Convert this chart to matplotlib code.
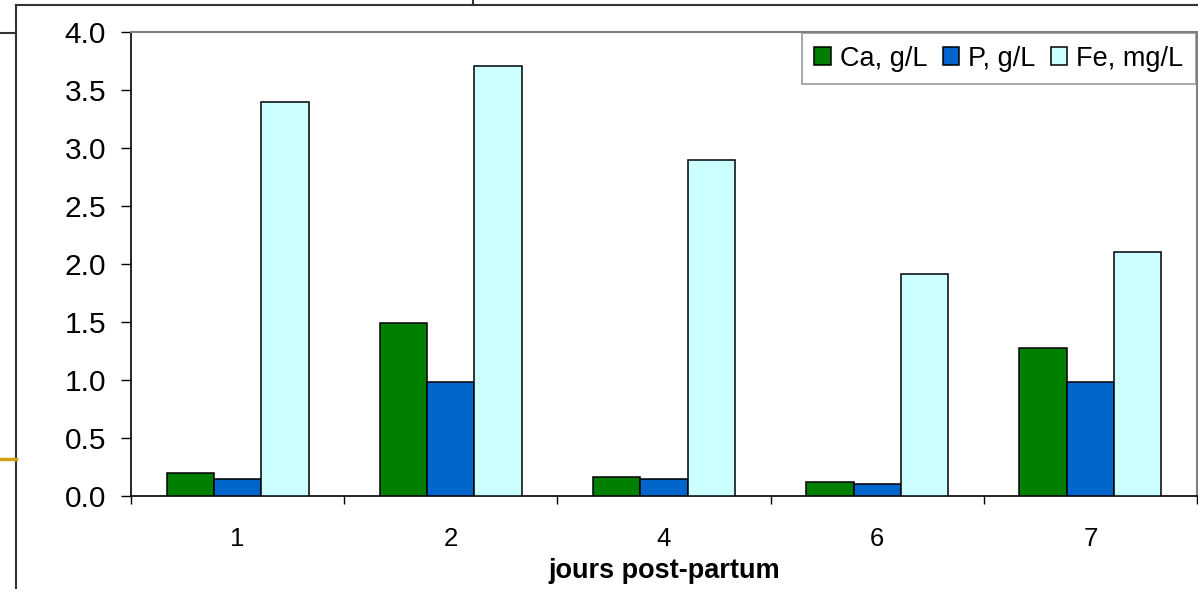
import matplotlib
matplotlib.use("Agg")
import matplotlib.pyplot as plt
from matplotlib.lines import Line2D
import numpy as np

plt.rcParams['font.family'] = ['Liberation Sans', 'DejaVu Sans']

categories = ["1", "2", "4", "6", "7"]
series_names = ["Ca, g/L", "P, g/L", "Fe, mg/L"]
ca = [0.20, 1.49, 0.16, 0.12, 1.28]
p = [0.15, 0.98, 0.15, 0.10, 0.98]
fe = [3.40, 3.71, 2.90, 1.91, 2.10]
colors = ["#008000", "#0066CC", "#CCFFFF"]
yticks = [0.0, 0.5, 1.0, 1.5, 2.0, 2.5, 3.0, 3.5, 4.0]

W, H = 1198, 589
fig = plt.figure(figsize=(W / 100, H / 100), dpi=100)
ax = fig.add_axes([131 / W, 1 - 496 / H, (1197 - 131) / W, (496 - 32) / H])

x = np.arange(len(categories))
bw = 1 / 4.5
for i, (vals, c, name) in enumerate(zip([ca, p, fe], colors, series_names)):
    ax.bar(x + (i - 1) * bw, vals, width=bw, color=c, edgecolor="black",
           linewidth=1.1, label=name, zorder=3)

ax.set_xlim(-0.5, len(categories) - 0.5)
ax.set_ylim(0, 4.0)
ax.set_yticks(yticks)
ax.set_yticklabels([f"{v:.1f}" for v in yticks], fontsize=21.5)
ax.tick_params(axis="y", direction="out", length=7, width=1, pad=11)

ax.set_xticks(x)
ax.set_xticklabels(categories, fontsize=18.5)
ax.set_xticks(np.arange(-0.5, len(categories)), minor=True)
ax.tick_params(axis="x", which="major", length=0, pad=22)
ax.tick_params(axis="x", which="minor", direction="out", length=6, width=1)
ax.set_xlabel("jours post-partum", fontsize=19.5, fontweight="bold", labelpad=5)

for s in ["left", "bottom"]:
    ax.spines[s].set_color("black")
    ax.spines[s].set_linewidth(1.2)
for s in ["top", "right"]:
    ax.spines[s].set_color("#808080")
    ax.spines[s].set_linewidth(1.5)

leg = ax.legend(loc="upper right", ncol=3, fontsize=19.5, frameon=True,
                fancybox=False, edgecolor="#808080", borderaxespad=0.05,
                handlelength=0.6, handleheight=0.6, handletextpad=0.35,
                columnspacing=0.55, borderpad=0.45)
leg.get_frame().set_linewidth(1.2)

# slide frame artifacts
def fline(x0, y0, x1, y1, color="#333333", lw=1.5):
    fig.add_artist(Line2D([x0 / W, x1 / W], [1 - y0 / H, 1 - y1 / H],
                          color=color, linewidth=lw, transform=fig.transFigure))

fline(16, 5, W, 5)
fline(16, 5, 16, H)
fline(473, 0, 473, 5)
fline(0, 33, 16, 33)
fline(0, 459, 16, 459, color="#D4A017", lw=2.5)

fig.savefig("out.png", dpi=100)
